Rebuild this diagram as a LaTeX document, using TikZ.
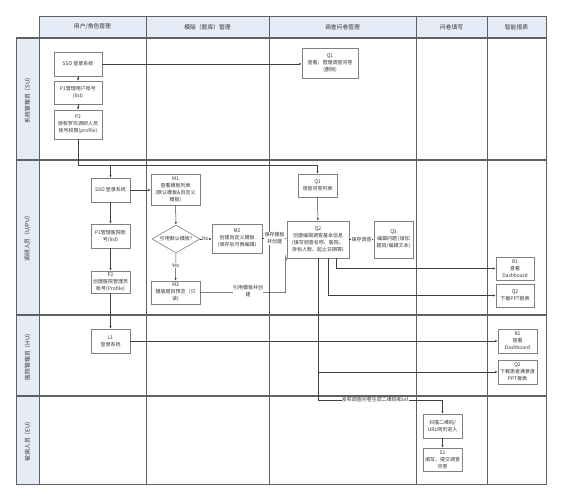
\documentclass[tikz,border=0pt]{standalone}
\usepackage{fontspec}
\newfontfamily\cjk{Noto Sans CJK SC}
\usetikzlibrary{shapes.geometric,arrows.meta}
\definecolor{hdr}{HTML}{E6ECF7}
\definecolor{lanec}{HTML}{606060}
\definecolor{boxc}{HTML}{808080}
\definecolor{txt}{HTML}{333333}
\begin{document}
\begin{tikzpicture}[x=1pt,y=-1pt,
  every node/.style={text=txt},
  bx/.style={draw=boxc, fill=white, line width=0.6pt, align=center, inner sep=0pt,
    font=\cjk\fontsize{5}{7}\selectfont},
  dia/.style={bx, diamond, aspect=1.7},
  lbl/.style={fill=white, inner sep=0.3pt, align=center, font=\cjk\fontsize{5}{7}\selectfont},
  hd/.style={font=\cjk\fontsize{5.8}{7}\selectfont},
  lane/.style={draw=lanec, line width=0.7pt},
  rowl/.style={draw=lanec, line width=1.2pt},
  ar/.style={draw=black!75, line width=0.5pt, -{Latex[length=2.6pt,width=2.2pt]}},
  ln/.style={draw=black!75, line width=0.5pt}]
\useasboundingbox (0,0) rectangle (562,500);
% lanes
\fill[hdr] (39,16) rectangle (546,38);
\fill[hdr] (16,38) rectangle (39,484);
\draw[lane] (39,16) rectangle (546,484);
\draw[lane] (16,38) rectangle (39,484);
\foreach \x in {146,269,416,487} \draw[lane] (\x,16) -- (\x,484);
\draw[rowl] (16,38) -- (546,38);
\foreach \y in {160,315,396} \draw[rowl] (16,\y) -- (546,\y);
% headers
\node[hd] (h1) at (92.5,27) {用户/角色管理};
\node[hd] (h2) at (207.5,27) {模版（题库）管理};
\node[hd] (h3) at (342.5,27) {调查问卷管理};
\node[hd] (h4) at (451.5,27) {问卷填写};
\node[hd] (h5) at (516.5,27) {智能报表};
\node[hd, rotate=90] (l1lab) at (27.5,99) {系统管理员（SU）};
\node[hd, rotate=90] (l2lab) at (27.5,237) {调研人员（U/PU）};
\node[hd, rotate=90] (l3lab) at (27.5,355.5) {医院管理员（HU）};
\node[hd, rotate=90] (l4lab) at (27.5,440) {被调人员（EU）};
% row 1
\node[bx, minimum width=48pt, minimum height=24pt] (susso) at (78,64) {SSO 登录系统};
\node[bx, minimum width=48pt, minimum height=23pt] (sup1) at (78,92.5) {P1管理用户账号\\(list)};
\node[bx, minimum width=48pt, minimum height=29pt] (sup2) at (78,124.5) {P2\\授权罗氏调研人员\\账号权限(profile)};
\node[bx, minimum width=56pt, minimum height=30pt] (suq1) at (330,63) {Q1\\查看、管理调查问卷\\(删除)};
% row 2
\node[bx, minimum width=39pt, minimum height=24pt] (usso) at (110.5,190) {SSO 登录系统};
\node[bx, minimum width=39pt, minimum height=24pt] (up1) at (110.5,236) {P1管理医院账\\号(list)};
\node[bx, minimum width=39pt, minimum height=22pt] (up2) at (110.5,282) {P2\\创建医院管理员\\账号(Profile)};
\node[bx, minimum width=49pt, minimum height=31pt] (m1) at (175.5,189.5) {M1\\查看模板列表\\(默认模板\&自定义\\模板)};
\node[dia, minimum width=48pt, minimum height=28pt] (d) at (176,239) {引用默认模板?};
\node[bx, minimum width=50pt, minimum height=29pt] (m2) at (237,238.5) {M2\\创建自定义模板\\(保存后可再编辑)};
\node[bx, minimum width=49pt, minimum height=23pt] (m3) at (175.5,292.5) {M3\\模版题目预览（只\\读)};
\node[bx, minimum width=39pt, minimum height=23pt] (q1) at (317.5,185.5) {Q1\\调查问卷列表};
\node[bx, minimum width=62pt, minimum height=37pt] (q2) at (318,239.5) {Q2\\创建编辑调查基本信息\\(填写调查名称、医院、\\目标人数、起止日期等)};
\node[bx, minimum width=39pt, minimum height=37pt] (q3) at (393.5,239.5) {Q3\\编辑问题 (增加\\题目/编辑文本)};
\node[bx, minimum width=38pt, minimum height=23pt] (r1) at (515,268.5) {R1\\查看\\Dashboard};
\node[bx, minimum width=38pt, minimum height=23pt] (rq2) at (515,295.5) {Q2\\下载PPT报表};
% row 3
\node[bx, minimum width=39pt, minimum height=24pt] (l1) at (110.5,341) {L1\\登录系统};
\node[bx, minimum width=39pt, minimum height=24pt] (hr1) at (517.5,341) {R1\\查看\\Dashboard};
\node[bx, minimum width=39pt, minimum height=24pt] (hq2) at (517.5,372) {Q2\\下载患者满意度\\PPT报表};
% row 4
\node[bx, minimum width=39pt, minimum height=24pt] (scan) at (442.5,426) {扫描二维码/\\URL网页进入};
\node[bx, minimum width=39pt, minimum height=23pt] (s1) at (442.5,459.5) {S1\\填写、提交调查\\问卷};
% connectors row 1
\draw[ar] (susso) -- (sup1);
\draw[ar] (sup1) -- (sup2);
\draw[ar] (susso.east) -- (susso.east -| suq1.west);
\coordinate (k) at (78,165);
\draw[ar] (sup2.south) -- (k) -| (q1.north);
\draw[ar] (k -| usso.north) -- (usso.north);
% row 2
\draw[ar] (usso) -- (up1);
\draw[ar] (up1) -- (up2);
\draw[ar] (up2) -- (l1);
\draw[ar] (usso.east) -- (usso.east -| m1.west);
\draw[ar] (m1) -- (d);
\draw[ar] (d.east) -- (d.east -| m2.west) node[lbl, pos=0.45] {No};
\draw[ar] (d.south) -- (m3.north) node[lbl, pos=0.45] {Yes};
\draw[ar] (m2.east) -- (m2.east -| q2.west) node[lbl, pos=0.5] {保存模板\\并创建};
\coordinate (mc) at (285.5,256);
\draw[ln] (m3.east) -| (mc) -- ([yshift=-2pt]q2.south west);
\node[lbl] (mlab) at (248,291) {引用模板并创\\建};
\draw[ar] (q1) -- (q2);
\draw[ar] (q2.east) -- (q3.west) node[lbl, midway] {保存调查};
\draw[ar] ([xshift=18pt]q2.south) |- (r1.west);
\draw[ar] ([xshift=10pt]q2.south) |- (rq2.west);
\coordinate (pub) at (318,400);
\draw[ar] (q2.south) -- (pub) -| (scan.north);
\node[lbl] (publab) at (375,400) {发布调查问卷生成二维码和url};
% row 3
\draw[ar] (l1.east) -- (l1.east -| hr1.west);
\draw[ar] (l1.east -| q2.south) |- (hq2.west);
% row 4
\draw[ar] (scan) -- (s1);
\end{tikzpicture}
\end{document}
